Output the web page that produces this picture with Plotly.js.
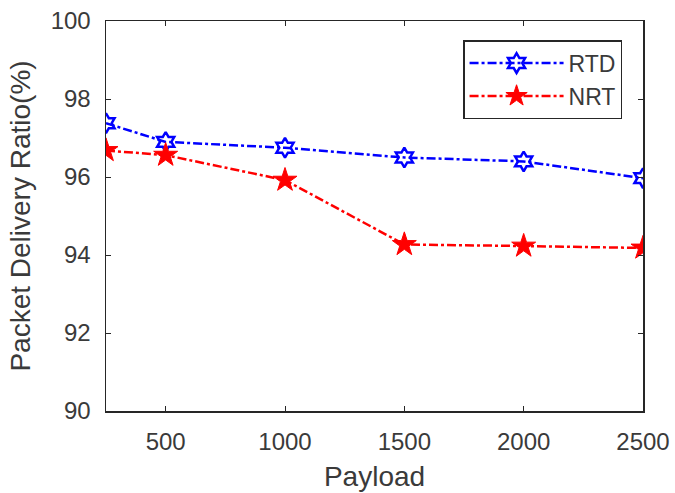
<!DOCTYPE html>
<html>
<head>
<meta charset="utf-8">
<script src="https://cdn.plot.ly/plotly-3.0.1.min.js"></script>
<style>html,body{margin:0;padding:0;background:#fff;}#chart{width:675px;height:493px;}</style>
</head>
<body>
<div id="chart"></div>
<script>
var payload = [250, 500, 1000, 1500, 2000, 2500];
var rtd = [97.38, 96.9, 96.75, 96.5, 96.4, 95.97];
var nrt = [96.68, 96.56, 95.92, 94.27, 94.23, 94.18];
var xTicks = [500, 1000, 1500, 2000, 2500];
var yTicks = [90, 92, 94, 96, 98, 100];

var axisColor = '#262626';
var textColor = '#3a3a3a';
var traces = [
  {x: payload, y: rtd, name: 'RTD', type: 'scatter', mode: 'lines+markers',
   line: {color: '#0000ff', width: 2.5, dash: 'dashdot'},
   marker: {symbol: 'hexagram-open', size: 15, color: '#0000ff', line: {width: 2.5, color: '#0000ff'}}},
  {x: payload, y: nrt, name: 'NRT', type: 'scatter', mode: 'lines+markers',
   line: {color: '#ff0000', width: 2.5, dash: 'dashdot'},
   marker: {symbol: 'star', size: 18, color: '#ff0000', line: {width: 1, color: '#ff0000'}}}
];
var layout = {
  width: 675, height: 493,
  margin: {l: 106, r: 32, t: 21, b: 82},
  paper_bgcolor: '#fff', plot_bgcolor: '#fff',
  font: {family: 'Liberation Sans, Arial, sans-serif', color: textColor},
  showlegend: true,
  legend: {x: 0.961, xanchor: 'right', y: 0.951, yanchor: 'top',
    bgcolor: '#fff', bordercolor: axisColor, borderwidth: 1.5,
    itemwidth: 94,
    font: {size: 23, color: textColor}},
  xaxis: {range: [250, 2500], tickvals: xTicks, ticktext: xTicks.map(String),
    ticks: 'inside', ticklen: 5, tickcolor: axisColor, tickwidth: 1,
    showline: true, linecolor: axisColor, linewidth: 1.5, mirror: 'ticks',
    showgrid: false, zeroline: false, tickfont: {size: 24},
    ticklabelstandoff: 9,
    title: {text: 'Payload', font: {size: 28}, standoff: 12}},
  yaxis: {range: [90, 100], tickvals: yTicks,
    ticks: 'inside', ticklen: 5, tickcolor: axisColor, tickwidth: 1,
    showline: true, linecolor: axisColor, linewidth: 1.5, mirror: 'ticks',
    showgrid: false, zeroline: false, tickfont: {size: 24},
    ticklabelstandoff: 9,
    title: {text: 'Packet Delivery Ratio(%)', font: {size: 28}, standoff: 12}}
};
Plotly.newPlot('chart', traces, layout, {displayModeBar: false, staticPlot: true});
</script>
</body>
</html>
